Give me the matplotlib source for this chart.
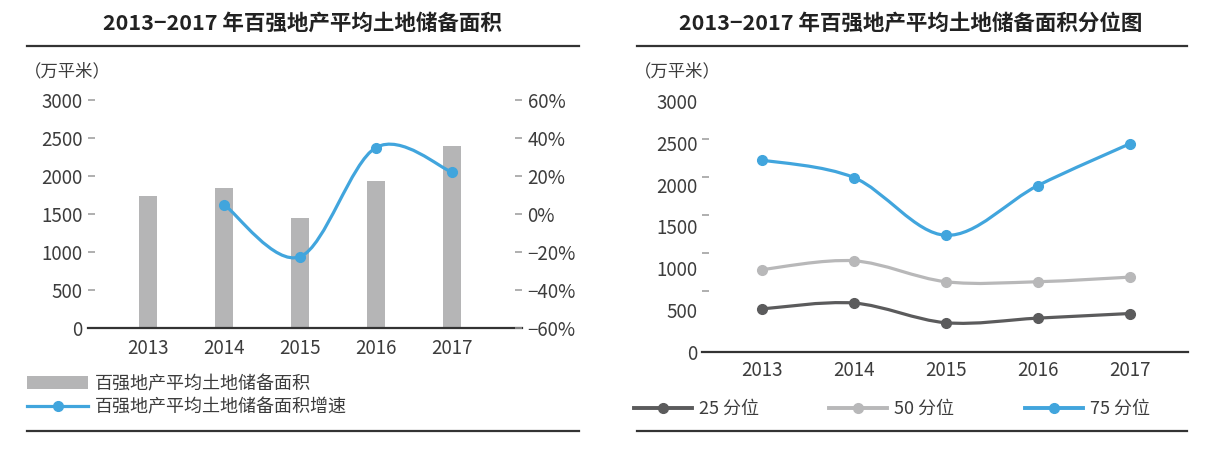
import matplotlib
matplotlib.use('Agg')
import matplotlib.pyplot as plt
from matplotlib.path import Path
from matplotlib.patches import PathPatch, Patch
from matplotlib.lines import Line2D
import numpy as np

plt.rcParams['font.family'] = ['Noto Sans CJK SC', 'DejaVu Sans']

# ---------------- data ----------------
years = ['2013', '2014', '2015', '2016', '2017']
avg_area = [1740, 1840, 1450, 1935, 2395]          # 万平米
growth_years = ['2014', '2015', '2016', '2017']
growth = [5.0, -22.5, 35.0, 22.0]                  # %

p25 = [515, 585, 350, 405, 460]
p50 = [985, 1090, 840, 840, 895]
p75 = [2295, 2085, 1395, 1990, 2490]

left_yticks = [0, 500, 1000, 1500, 2000, 2500, 3000]
right_yticks = [-60, -40, -20, 0, 20, 40, 60]

BLUE = '#41a5dd'
BAR = '#b5b5b6'
DARK = '#5b5b5c'
LIGHT = '#b8b8b9'
TEXT = '#3c3c3c'
TICK = '#9a9a9a'
RULE = '#333333'
NUM = 13.5


def smooth_line(ax, xs, ys, color, lw):
    # catmull-rom style bezier through the points (like a "smoothed line")
    xs = np.asarray(xs, float)
    ys = np.asarray(ys, float)
    n = len(xs)
    t = 1 / 6
    verts = [(xs[0], ys[0])]
    codes = [Path.MOVETO]
    for i in range(n - 1):
        a = i - 1 if i > 0 else i
        d = i + 2 if i + 2 < n else i + 1
        c1 = (xs[i] + (xs[i + 1] - xs[a]) * t, ys[i] + (ys[i + 1] - ys[a]) * t)
        c2 = (xs[i + 1] - (xs[d] - xs[i]) * t, ys[i + 1] - (ys[d] - ys[i]) * t)
        verts += [c1, c2, (xs[i + 1], ys[i + 1])]
        codes += [Path.CURVE4] * 3
    ax.add_patch(PathPatch(Path(verts, codes), facecolor='none', edgecolor=color,
                           lw=lw, capstyle='round', joinstyle='round', zorder=3))


def style_axis(ax, side, xpad=7):
    for s in ax.spines.values():
        s.set_visible(False)
    ax.spines['bottom'].set_visible(True)
    ax.spines['bottom'].set_color(RULE)
    ax.spines['bottom'].set_linewidth(1.6)
    ax.tick_params(axis='x', length=0, pad=xpad, labelsize=NUM, labelcolor=TEXT)
    ax.tick_params(axis='y', direction='in', length=5, width=1.1, color=TICK,
                   pad=4, labelsize=NUM, labelcolor=TEXT,
                   left=(side == 'left'), right=(side == 'right'),
                   labelleft=(side == 'left'), labelright=(side == 'right'))


fig = plt.figure(figsize=(12.13, 4.53), dpi=100)
W, H = 1213, 453

# ---------------- left chart ----------------
ax1 = fig.add_axes([88 / W, (H - 328) / H, 434 / W, 228 / H])
x = np.arange(len(years))
ax1.bar(x, avg_area, width=0.23, color=BAR, zorder=2)
ax1.set_xlim(-0.79, 4.92)
ax1.set_ylim(0, 3000)
ax1.set_yticks(left_yticks)
ax1.set_xticks(x)
ax1.set_xticklabels(years)
style_axis(ax1, 'left')

ax2 = ax1.twinx()
ax2.set_ylim(-60, 60)
ax2.set_yticks(right_yticks)
ax2.set_yticklabels(['%d%%' % v if v >= 0 else '\u2212%d%%' % -v for v in right_yticks])
style_axis(ax2, 'right')
ax2.spines['bottom'].set_visible(False)
gx = [years.index(y) for y in growth_years]
smooth_line(ax2, gx, growth, BLUE, 2.3)
ax2.plot(gx, growth, 'o', color=BLUE, ms=7, zorder=4)

# ---------------- right chart ----------------
ax3 = fig.add_axes([702 / W, (H - 352) / H, 486 / W, 251 / H])
ax3.set_xlim(-0.65, 4.63)
ax3.set_ylim(0, 3000)
ax3.set_yticks(left_yticks)
ax3.set_xticks(x)
ax3.set_xticklabels(years)
style_axis(ax3, 'left', xpad=6)
ax3.tick_params(axis='y', which='major', length=0, pad=3)
# the original's dashes don't sit on the labels; reproduce that with minor ticks
ax3.set_yticks(np.linspace(3000, 725, 6), minor=True)
ax3.tick_params(axis='y', which='minor', direction='in', length=5, width=1.1, color=TICK)
for vals, col in [(p25, DARK), (p50, LIGHT), (p75, BLUE)]:
    smooth_line(ax3, x, vals, col, 2.3)
    ax3.plot(x, vals, 'o', color=col, ms=7, zorder=4)

# ---------------- titles, units, rules ----------------
fig.text(302 / W, 1 - 23 / H, '2013\u22122017 年百强地产平均土地储备面积', ha='center', va='center',
         fontsize=15.5, fontweight='bold', color='#222222')
fig.text(911 / W, 1 - 23 / H, '2013\u22122017 年百强地产平均土地储备面积分位图', ha='center', va='center',
         fontsize=15.5, fontweight='bold', color='#222222')
fig.text(24 / W, 1 - 71 / H, '（万平米）', ha='left', va='center', fontsize=12.5, color=TEXT)
fig.text(634 / W, 1 - 71 / H, '（万平米）', ha='left', va='center', fontsize=12.5, color=TEXT)

for x0, x1 in [(27, 579), (637, 1187)]:
    for yy in (46, 431):
        fig.add_artist(Line2D([x0 / W, x1 / W], [1 - yy / H, 1 - yy / H],
                              color=RULE, lw=1.6, transform=fig.transFigure))

# ---------------- legends ----------------
h1 = [Patch(facecolor=BAR, edgecolor='none'),
      Line2D([], [], color=BLUE, lw=2.3, marker='o', ms=7)]
fig.legend(h1, ['百强地产平均土地储备面积', '百强地产平均土地储备面积增速'],
           loc='upper left', bbox_to_anchor=(18 / W, 1 - 366 / H), frameon=False,
           fontsize=13, handlelength=3.4, handleheight=0.75, handletextpad=0.35,
           labelspacing=0.3, borderpad=0, labelcolor=TEXT)

h2 = [Line2D([], [], color=c, lw=2.8, marker='o', ms=7) for c in (DARK, LIGHT, BLUE)]
fig.legend(h2, ['25 分位', '50 分位', '75 分位'], loc='upper left', ncol=3,
           bbox_to_anchor=(625 / W, 1 - 391 / H), frameon=False, fontsize=13,
           handlelength=3.2, handletextpad=0.4, columnspacing=3.9, borderpad=0,
           labelcolor=TEXT)

fig.savefig('out.png', dpi=100)
